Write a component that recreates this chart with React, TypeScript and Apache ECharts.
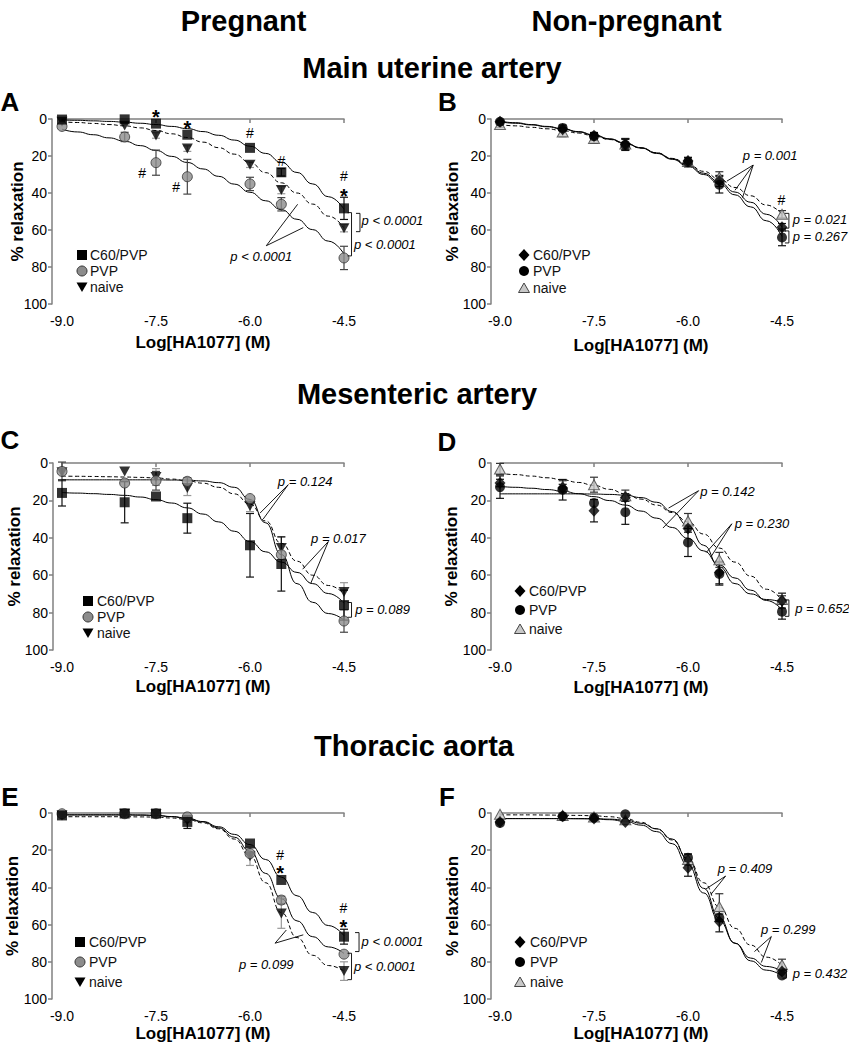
import React, { useEffect, useRef } from "react";
import * as echarts from "echarts";

const FONT = '"Liberation Sans", Arial, Helvetica, sans-serif';

// ---- shared x values ----
const DOSES = [-9, -8, -7.5, -7, -6, -5.5, -4.5];
const FIT_X = [-9, -8.75, -8.5, -8.25, -8, -7.75, -7.5, -7.25, -7, -6.75, -6.5, -6.25, -6, -5.75, -5.5, -5.25, -5, -4.75, -4.5];
const LEGEND_LABELS = ["C60/PVP", "PVP", "naive"];

// ---- Panel A: Pregnant, main uterine artery ----
const A_C60 = [0.3, 0.2, 2.5, 8.5, 15.6, 28.8, 48.3];
const A_C60_SEM = [0, 0, 0, 0, 0, 2, 6];
const A_PVP = [4, 9.7, 23.6, 31.2, 35.1, 46.1, 75.1];
const A_PVP_SEM = [0, 2.5, 6.8, 9.4, 3.6, 3.6, 6.3];
const A_NAIVE = [1.5, 3.5, 8.9, 16, 24.7, 38.4, 59];
const A_NAIVE_SEM = [0, 0, 1.5, 1.5, 1.5, 2, 2];
const A_FIT_C60 = [0.5, 0.7, 1, 1.3, 1.7, 2.3, 3, 4, 5.2, 6.8, 8.8, 11.4, 14.7, 18.6, 23.4, 28.9, 35.1, 42, 48.8];
const A_FIT_PVP = [5.5, 7, 8.5, 10.2, 12, 14.4, 17, 20.2, 23.5, 27, 31, 35.2, 39.6, 44.2, 49, 54.2, 59.8, 66, 73];
const A_FIT_NAIVE = [1.5, 1.9, 2.4, 3, 3.7, 4.8, 6.2, 8, 10, 12.5, 15.5, 19, 23.5, 29, 34.5, 40, 46, 52.5, 59];

// ---- Panel B: Non-pregnant, main uterine artery ----
const B_C60 = [1.5, 5.5, 9, 13.7, 22.7, 33.5, 58.5];
const B_C60_SEM = [0.5, 1, 1.5, 3, 2, 3, 2];
const B_PVP = [1.5, 4.8, 9.3, 14, 23.4, 35.5, 64];
const B_PVP_SEM = [0.5, 1.5, 2, 3, 2.5, 4.5, 4.5];
const B_NAIVE = [3, 7, 10.5, 13.5, 23, 31.5, 51.5];
const B_NAIVE_SEM = [1.5, 2.5, 2.5, 3, 2, 3, 2];
const B_FIT_C60 = [1.2, 2, 3, 4, 5.2, 6.8, 8.6, 10.7, 13, 15.5, 18.3, 21.5, 25, 29.3, 34, 39.5, 45, 51.5, 58.5];
const B_FIT_PVP = [1.5, 2.3, 3.2, 4.2, 5.4, 7, 8.8, 10.9, 13.2, 15.7, 18.6, 21.8, 25.5, 30, 35, 41, 47.5, 55, 63.5];
const B_FIT_NAIVE = [3, 3.7, 4.5, 5.3, 6.3, 7.6, 9.2, 11.1, 13.3, 15.7, 18.3, 21.3, 24.5, 28.3, 32.5, 37, 41.5, 46.5, 51.5];

// ---- Panel C: Pregnant, mesenteric artery ----
const C_C60 = [16, 21, 17.9, 29.5, 44, 54, 76];
const C_C60_SEM = [7, 11, 0, 8, 17, 14.5, 8];
const C_PVP = [4.5, 10.7, 9.5, 9.8, 19, 49, 84.5];
const C_PVP_SEM = [5, 0, 5, 2, 0, 0, 6];
const C_NAIVE = [5, 4.5, 7.5, 13.4, 23, 45.5, 69];
const C_NAIVE_SEM = [0, 0, 4.5, 4, 3, 6, 5];
const C_FIT_C60 = [15.8, 16.1, 16.4, 16.8, 17.3, 18.2, 19.6, 21.4, 24, 27.3, 31.5, 36.5, 42, 47.5, 53, 58.5, 64.5, 69.8, 75];
const C_FIT_PVP = [9, 9, 9, 9, 9, 9, 9, 9.1, 9.2, 9.6, 10.5, 13, 19.5, 32, 49, 64.5, 74.5, 80.5, 84];
const C_FIT_NAIVE = [7, 7.1, 7.2, 7.35, 7.5, 7.7, 8, 8.6, 9.5, 10.8, 13, 16.5, 22, 31, 43, 52.5, 60, 65.5, 70];

// ---- Panel D: Non-pregnant, mesenteric artery ----
const D_C60 = [10.7, 13.4, 25.5, 18.4, 35, 58.6, 73.6];
const D_C60_SEM = [2, 2, 6, 2, 2, 6, 4];
const D_PVP = [12.9, 14.3, 21.4, 26.3, 42.5, 59.3, 79.5];
const D_PVP_SEM = [6, 5.5, 0, 6.5, 7.5, 6, 4];
const D_NAIVE = [3.2, 12.5, 11.6, 17.5, 31, 51.8, 73];
const D_NAIVE_SEM = [3, 3, 4, 3, 4, 4, 2];
const D_FIT_C60 = [16.5, 16.5, 16.5, 16.5, 16.5, 16.5, 16.6, 16.8, 17.2, 18.5, 21, 26, 33.5, 44, 55.5, 64.5, 70, 73, 74.5];
const D_FIT_PVP = [12.5, 13, 13.5, 14.2, 15, 16.4, 18, 20.1, 22.5, 25.7, 29.5, 34.5, 40.3, 47, 54.5, 61.5, 68, 73.5, 78.5];
const D_FIT_NAIVE = [5.5, 6.2, 7, 7.9, 9, 10.4, 12, 14.1, 16.5, 19.3, 22.5, 26.5, 31.5, 38, 45.5, 53, 60.5, 67.5, 73.5];

// ---- Panel E: Pregnant, thoracic aorta ----
const E_C60 = [1.3, 0.3, 0.3, 4.8, 16.4, 36, 66.5];
const E_C60_SEM = [0, 0, 0, 3.5, 0, 0, 4];
const E_PVP = [0.4, 0.4, 0.4, 2.1, 21.8, 46.8, 75.9];
const E_PVP_SEM = [0, 0, 0, 0, 0, 2, 0];
const E_NAIVE = [1.3, 0.4, 0.7, 4, 23.2, 54, 85];
const E_NAIVE_SEM = [0, 0, 0, 1, 5, 8, 5];
const E_FIT_C60 = [1, 1, 1, 1, 1, 1.1, 1.3, 1.9, 2.8, 4.6, 7.4, 11.5, 17, 25, 34.5, 44.5, 53.5, 60.5, 66];
const E_FIT_PVP = [1, 1, 1, 1, 1, 1.1, 1.3, 2, 3, 4.8, 8, 13, 20.5, 32.5, 46, 58, 66.5, 72, 75.5];
const E_FIT_NAIVE = [2, 2, 2, 2, 2, 2.1, 2.2, 2.7, 3.5, 5.3, 8.5, 14, 23, 37.5, 53.5, 67, 76.5, 82, 85];

// ---- Panel F: Non-pregnant, thoracic aorta ----
const F_C60 = [4.8, 1.8, 3, 4.8, 29.5, 58.4, 85.2];
const F_C60_SEM = [0, 0, 0, 0, 4.5, 5.5, 0];
const F_PVP = [5.4, 1.8, 2.5, 0.7, 24.1, 56.3, 87.3];
const F_PVP_SEM = [0, 0, 0, 0, 2, 2, 0];
const F_NAIVE = [0.7, 1.3, 2.1, 3.6, 25, 50.4, 81.6];
const F_NAIVE_SEM = [0, 0, 0, 0, 3, 7, 3];
const F_FIT_C60 = [3, 3, 3, 3, 3, 3.1, 3.2, 3.6, 4.5, 6.5, 10, 16.5, 28, 43, 58, 70, 78, 82.5, 85];
const F_FIT_PVP = [3, 3, 3, 3, 3, 3, 3, 3.3, 3.8, 5.5, 8.5, 14, 25, 40.5, 56.5, 70, 79.5, 84.5, 87.5];
const F_FIT_NAIVE = [1, 1, 1, 1.1, 1.2, 1.3, 1.5, 2, 3, 5, 8.5, 14.5, 24.5, 37.5, 50.5, 62, 71, 77.5, 82];

// ---- significance marks [text, x, y] ----
const A_MARKS = [["*", -7.5, -4], ["*", -7, 2.2], ["#", -6, 7.4], ["#", -5.5, 22.7], ["#", -4.5, 30.8], ["*", -4.5, 38.7], ["#", -7.72, 29], ["#", -7.18, 36.6]];
const B_MARKS = [["#", -4.51, 43.8]];
const C_MARKS: any[] = [];
const D_MARKS: any[] = [];
const E_MARKS = [["#", -5.52, 22.7], ["*", -5.52, 29.8], ["#", -4.51, 51.2], ["*", -4.51, 58.4]];
const F_MARKS: any[] = [];

// ---- p-value callouts: [label, labelX, labelY, apexX, apexY, [[endX, endY], ...]] ----
const A_PLINES = [["p < 0.0001", -5.82, 74.4, -5.74, 68.5, [[-5.24, 46.1], [-5.15, 58.7]]]];
const B_PLINES = [["p = 0.001", -4.69, 19.5, -4.96, 24.9, [[-5.38, 33.6], [-5.25, 38.5], [-5.13, 42.5]]]];
const C_PLINES = [
  ["p = 0.124", -5.12, 9.8, -5.39, 11.6, [[-5.84, 26.8], [-5.79, 30]]],
  ["p = 0.017", -4.59, 40.2, -4.75, 42, [[-5.16, 56.8], [-5.03, 64.3]]],
];
const D_PLINES = [
  ["p = 0.142", -5.37, 15.2, -5.83, 14.8, [[-6.31, 24.1], [-6.4, 34.8]]],
  ["p = 0.230", -4.82, 32.5, -5.3, 32.5, [[-5.71, 47.9], [-5.63, 50]]],
];
const E_PLINES = [["p = 0.099", -5.74, 81.6, -5.6, 70, [[-5.42, 62.9], [-5.15, 65.5]]]];
const F_PLINES = [
  ["p = 0.409", -5.09, 29.8, -5.4, 33.9, [[-5.72, 41], [-5.63, 43.6]]],
  ["p = 0.299", -4.4, 62.9, -4.67, 66.4, [[-4.94, 74.5], [-4.83, 80.4]]],
];

// ---- brackets: [label, x, y1, y2, labelX, labelY] ----
const A_BRACKETS = [["p < 0.0001", -4.245, 51, 60.9, -4.22, 54.6], ["p < 0.0001", -4.38, 50.6, 74, -4.34, 68.1]];
const B_BRACKETS = [["p = 0.021", -4.39, 51, 59, -4.33, 54.5], ["p = 0.267", -4.39, 60.5, 67, -4.33, 63.5]];
const C_BRACKETS = [["p = 0.089", -4.38, 74.6, 82.5, -4.32, 78.6]];
const D_BRACKETS = [["p = 0.652", -4.39, 73.2, 82, -4.29, 77.7]];
const E_BRACKETS = [["p < 0.0001", -4.26, 64.3, 74.5, -4.22, 69.1], ["p < 0.0001", -4.38, 75.4, 89.6, -4.34, 82.5]];
const F_BRACKETS = [["p = 0.432", -4.43, 83.9, 88.8, -4.33, 86.4]];

// ---- titles ----
const COLUMN_TITLES = ["Pregnant", "Non-pregnant"];
const ROW_TITLES = ["Main uterine artery", "Mesenteric artery", "Thoracic aorta"];
const Y_NAME = "% relaxation";
const X_NAME = "Log[HA1077] (M)";

const PANELS = [
  { id: "A", kind: "p", grid: { left: 62, top: 119, width: 282, height: 185 }, yOff: 10, yGap: 26, xGap: 23,
    c60: A_C60, c60e: A_C60_SEM, pvp: A_PVP, pvpe: A_PVP_SEM, nv: A_NAIVE, nve: A_NAIVE_SEM,
    fc: A_FIT_C60, fp: A_FIT_PVP, fn: A_FIT_NAIVE, marks: A_MARKS, plines: A_PLINES, brackets: A_BRACKETS,
    leg: { mx: 82, tx: 90, ys: [255, 271, 287] }, letter: [10, 101.5] },
  { id: "B", kind: "n", grid: { left: 500, top: 119, width: 282, height: 185 }, yOff: 9, yGap: 30, xGap: 26,
    c60: B_C60, c60e: B_C60_SEM, pvp: B_PVP, pvpe: B_PVP_SEM, nv: B_NAIVE, nve: B_NAIVE_SEM,
    fc: B_FIT_C60, fp: B_FIT_PVP, fn: B_FIT_NAIVE, marks: B_MARKS, plines: B_PLINES, brackets: B_BRACKETS,
    leg: { mx: 524, tx: 533, ys: [255, 271, 288] }, letter: [447.5, 101.5] },
  { id: "C", kind: "p", grid: { left: 62, top: 463, width: 282, height: 187 }, yOff: 9, yGap: 30, xGap: 21,
    c60: C_C60, c60e: C_C60_SEM, pvp: C_PVP, pvpe: C_PVP_SEM, nv: C_NAIVE, nve: C_NAIVE_SEM,
    fc: C_FIT_C60, fp: C_FIT_PVP, fn: C_FIT_NAIVE, marks: C_MARKS, plines: C_PLINES, brackets: C_BRACKETS,
    leg: { mx: 88, tx: 97, ys: [601, 617, 633] }, letter: [10, 440] },
  { id: "D", kind: "n", grid: { left: 500, top: 463, width: 282, height: 187 }, yOff: 9, yGap: 31, xGap: 22,
    c60: D_C60, c60e: D_C60_SEM, pvp: D_PVP, pvpe: D_PVP_SEM, nv: D_NAIVE, nve: D_NAIVE_SEM,
    fc: D_FIT_C60, fp: D_FIT_PVP, fn: D_FIT_NAIVE, marks: D_MARKS, plines: D_PLINES, brackets: D_BRACKETS,
    leg: { mx: 520, tx: 529, ys: [591, 610, 629] }, letter: [447, 442] },
  { id: "E", kind: "p", grid: { left: 62, top: 813, width: 282, height: 186 }, yOff: 10, yGap: 31, xGap: 19,
    c60: E_C60, c60e: E_C60_SEM, pvp: E_PVP, pvpe: E_PVP_SEM, nv: E_NAIVE, nve: E_NAIVE_SEM,
    fc: E_FIT_C60, fp: E_FIT_PVP, fn: E_FIT_NAIVE, marks: E_MARKS, plines: E_PLINES, brackets: E_BRACKETS,
    leg: { mx: 80, tx: 89, ys: [942, 962, 982] }, letter: [10, 796.5] },
  { id: "F", kind: "n", grid: { left: 500, top: 813, width: 282, height: 186 }, yOff: 9, yGap: 30, xGap: 19,
    c60: F_C60, c60e: F_C60_SEM, pvp: F_PVP, pvpe: F_PVP_SEM, nv: F_NAIVE, nve: F_NAIVE_SEM,
    fc: F_FIT_C60, fp: F_FIT_PVP, fn: F_FIT_NAIVE, marks: F_MARKS, plines: F_PLINES, brackets: F_BRACKETS,
    leg: { mx: 520, tx: 530, ys: [942, 962, 982] }, letter: [447, 796.5] },
];

const AXIS_COLOR = "#808080";

function txt(text: string, x: number, y: number, font: string, align = "center", fill = "#000") {
  return {
    type: "text", x, y, silent: true,
    style: { text, font, fill, textAlign: align, textVerticalAlign: "middle", align, verticalAlign: "middle" },
  };
}

function legendMarker(kind: string, i: number, cx: number, cy: number) {
  if (kind === "p") {
    if (i === 0) return { type: "rect", shape: { x: cx - 5, y: cy - 5, width: 10, height: 10 }, style: { fill: "#000" } };
    if (i === 1) return { type: "circle", shape: { cx, cy, r: 5 }, style: { fill: "#8c8c8c", stroke: "#333", lineWidth: 1 } };
    return { type: "polygon", shape: { points: [[cx - 5.5, cy - 4.5], [cx + 5.5, cy - 4.5], [cx, cy + 5]] }, style: { fill: "#000" } };
  }
  if (i === 0) return { type: "polygon", shape: { points: [[cx, cy - 6], [cx + 5.5, cy], [cx, cy + 6], [cx - 5.5, cy]] }, style: { fill: "#000" } };
  if (i === 1) return { type: "circle", shape: { cx, cy, r: 5 }, style: { fill: "#000" } };
  return { type: "polygon", shape: { points: [[cx, cy - 5], [cx + 5.5, cy + 4.5], [cx - 5.5, cy + 4.5]] }, style: { fill: "#c8c8c8", stroke: "#444", lineWidth: 1 } };
}

function errRender(color: string) {
  return (_params: any, api: any) => {
    const x = api.value(0), y = api.value(1), e = api.value(2);
    if (!e) return { type: "group", children: [] };
    const t = api.coord([x, y - e]);
    const b = api.coord([x, y + e]);
    const w = 4;
    const st = { stroke: color, lineWidth: 1.2 };
    return {
      type: "group",
      children: [
        { type: "line", shape: { x1: t[0], y1: t[1], x2: b[0], y2: b[1] }, style: st },
        { type: "line", shape: { x1: t[0] - w, y1: t[1], x2: t[0] + w, y2: t[1] }, style: st },
        { type: "line", shape: { x1: b[0] - w, y1: b[1], x2: b[0] + w, y2: b[1] }, style: st },
      ],
    };
  };
}

function annoRender(p: any) {
  return (_params: any, api: any) => {
    const children: any[] = [];
    const pfont = `italic 13px ${FONT}`;
    p.marks.forEach((m: any) => {
      const c = api.coord([m[1], m[2]]);
      const star = m[0] === "*";
      children.push(txt(m[0], c[0], c[1] + (star ? 5 : 0), star ? `bold 20px ${FONT}` : `14px ${FONT}`));
    });
    p.plines.forEach((l: any) => {
      const lc = api.coord([l[1], l[2]]);
      children.push(txt(l[0], lc[0], lc[1], pfont));
      const a = api.coord([l[3], l[4]]);
      l[5].forEach((e: any) => {
        const ec = api.coord(e);
        children.push({ type: "line", shape: { x1: a[0], y1: a[1], x2: ec[0], y2: ec[1] }, style: { stroke: "#000", lineWidth: 0.9 } });
      });
    });
    p.brackets.forEach((br: any) => {
      const t = api.coord([br[1], br[2]]);
      const b = api.coord([br[1], br[3]]);
      children.push({
        type: "polyline",
        shape: { points: [[t[0] - 4, t[1]], [t[0], t[1]], [b[0], b[1]], [b[0] - 4, b[1]]] },
        style: { stroke: "#000", lineWidth: 0.9, fill: "none" },
      });
      const lc = api.coord([br[4], br[5]]);
      children.push(txt(br[0], lc[0], lc[1], pfont, "left"));
    });
    return { type: "group", children };
  };
}

export default function App() {
  const ref = useRef<HTMLDivElement>(null);

  useEffect(() => {
    if (!ref.current) return;
    const chart = echarts.init(ref.current, undefined, { renderer: "svg" });

    const grid: any[] = [];
    const xAxis: any[] = [];
    const yAxis: any[] = [];
    const series: any[] = [];
    const graphic: any[] = [];

    PANELS.forEach((p, i) => {
      grid.push({ ...p.grid, containLabel: false });
      xAxis.push({
        type: "value", gridIndex: i, min: -9, max: -4.5, interval: 1.5, offset: 7,
        name: X_NAME, nameLocation: "middle", nameGap: p.xGap, nameMoveOverlap: false,
        nameTextStyle: { fontSize: 17, fontWeight: "bold", color: "#000", fontFamily: FONT },
        axisLine: { show: true, lineStyle: { color: AXIS_COLOR, width: 1.5 } },
        axisTick: { show: true, length: 4, lineStyle: { color: AXIS_COLOR, width: 1.5 } },
        axisLabel: { color: "#000", fontSize: 14, fontFamily: FONT, margin: 3, formatter: (v: number) => v.toFixed(1) },
        splitLine: { show: false },
      });
      yAxis.push({
        type: "value", gridIndex: i, min: 0, max: 100, interval: 20, inverse: true, offset: p.yOff,
        name: Y_NAME, nameLocation: "middle", nameRotate: 90, nameGap: p.yGap, nameMoveOverlap: false,
        nameTextStyle: { fontSize: 17, fontWeight: "bold", color: "#000", fontFamily: FONT },
        axisLine: { show: true, lineStyle: { color: AXIS_COLOR, width: 1.5 } },
        axisTick: { show: true, length: 4, lineStyle: { color: AXIS_COLOR, width: 1.5 } },
        axisLabel: { color: "#000", fontSize: 14, fontFamily: FONT, margin: 5 },
        splitLine: { show: false },
      });

      const fits = [
        { name: "naive", vals: p.fn, dash: [4, 2.5] as any },
        { name: "PVP", vals: p.fp, dash: "solid" },
        { name: "C60/PVP", vals: p.fc, dash: "solid" },
      ];
      fits.forEach((f) => {
        series.push({
          type: "line", name: f.name, xAxisIndex: i, yAxisIndex: i, silent: true,
          data: FIT_X.map((x, k) => [x, f.vals[k]]),
          showSymbol: false, symbol: "none", smooth: 0.5, smoothMonotone: "x", z: 2,
          lineStyle: { color: "#000", width: 1, type: f.dash },
        });
      });

      const groups = p.kind === "p"
        ? [
            { name: "naive", vals: p.nv, sem: p.nve, ec: "#999", sym: { symbol: "triangle", symbolRotate: 180, symbolSize: [11, 10], itemStyle: { color: "#000" } } },
            { name: "PVP", vals: p.pvp, sem: p.pvpe, ec: "#444", sym: { symbol: "circle", symbolSize: 10, itemStyle: { color: "#8c8c8c", borderColor: "#333", borderWidth: 1 } } },
            { name: "C60/PVP", vals: p.c60, sem: p.c60e, ec: "#111", sym: { symbol: "rect", symbolSize: 10, itemStyle: { color: "#000" } } },
          ]
        : [
            { name: "naive", vals: p.nv, sem: p.nve, ec: "#333", sym: { symbol: "triangle", symbolSize: [11, 10], itemStyle: { color: "#c8c8c8", borderColor: "#444", borderWidth: 1 } } },
            { name: "PVP", vals: p.pvp, sem: p.pvpe, ec: "#111", sym: { symbol: "circle", symbolSize: 10, itemStyle: { color: "#000" } } },
            { name: "C60/PVP", vals: p.c60, sem: p.c60e, ec: "#111", sym: { symbol: "diamond", symbolSize: [11, 12], itemStyle: { color: "#000" } } },
          ];

      groups.forEach((g) => {
        series.push({
          type: "custom", name: g.name + " SEM", xAxisIndex: i, yAxisIndex: i, silent: true, clip: false, z: 3,
          data: DOSES.map((x, k) => [x, g.vals[k], g.sem[k]]),
          encode: { x: 0, y: 1 },
          renderItem: errRender(g.ec),
        });
      });
      groups.forEach((g) => {
        series.push({
          type: "scatter", name: g.name, xAxisIndex: i, yAxisIndex: i, silent: true, z: 4,
          data: DOSES.map((x, k) => [x, g.vals[k]]),
          ...g.sym,
        });
      });

      series.push({
        type: "custom", name: p.id + " annotations", xAxisIndex: i, yAxisIndex: i, silent: true, clip: false, z: 5,
        data: [[-6.75, 50]],
        encode: { x: 0, y: 1 },
        renderItem: annoRender(p),
      });

      // legend
      p.leg.ys.forEach((cy, k) => {
        graphic.push(legendMarker(p.kind, k, p.leg.mx, cy));
        graphic.push(txt(LEGEND_LABELS[k], p.leg.tx, cy, `14px ${FONT}`, "left", "#111"));
      });
      // panel letter
      graphic.push(txt(p.id, p.letter[0], p.letter[1], `bold 26px ${FONT}`));
    });

    graphic.push(txt(COLUMN_TITLES[0], 243.5, 21, `bold 29px ${FONT}`));
    graphic.push(txt(COLUMN_TITLES[1], 626.5, 21, `bold 29px ${FONT}`));
    graphic.push(txt(ROW_TITLES[0], 432, 68, `bold 29px ${FONT}`));
    graphic.push(txt(ROW_TITLES[1], 417, 394, `bold 29px ${FONT}`));
    graphic.push(txt(ROW_TITLES[2], 414, 746, `bold 29px ${FONT}`));

    chart.setOption({
      animation: false,
      backgroundColor: "#fff",
      textStyle: { fontFamily: FONT },
      grid, xAxis, yAxis, series, graphic,
    });

    return () => chart.dispose();
  }, []);

  return (
    <div
      ref={ref}
      style={{ position: "absolute", left: 0, top: 0, width: 849, height: 1050, background: "#fff" }}
    />
  );
}
